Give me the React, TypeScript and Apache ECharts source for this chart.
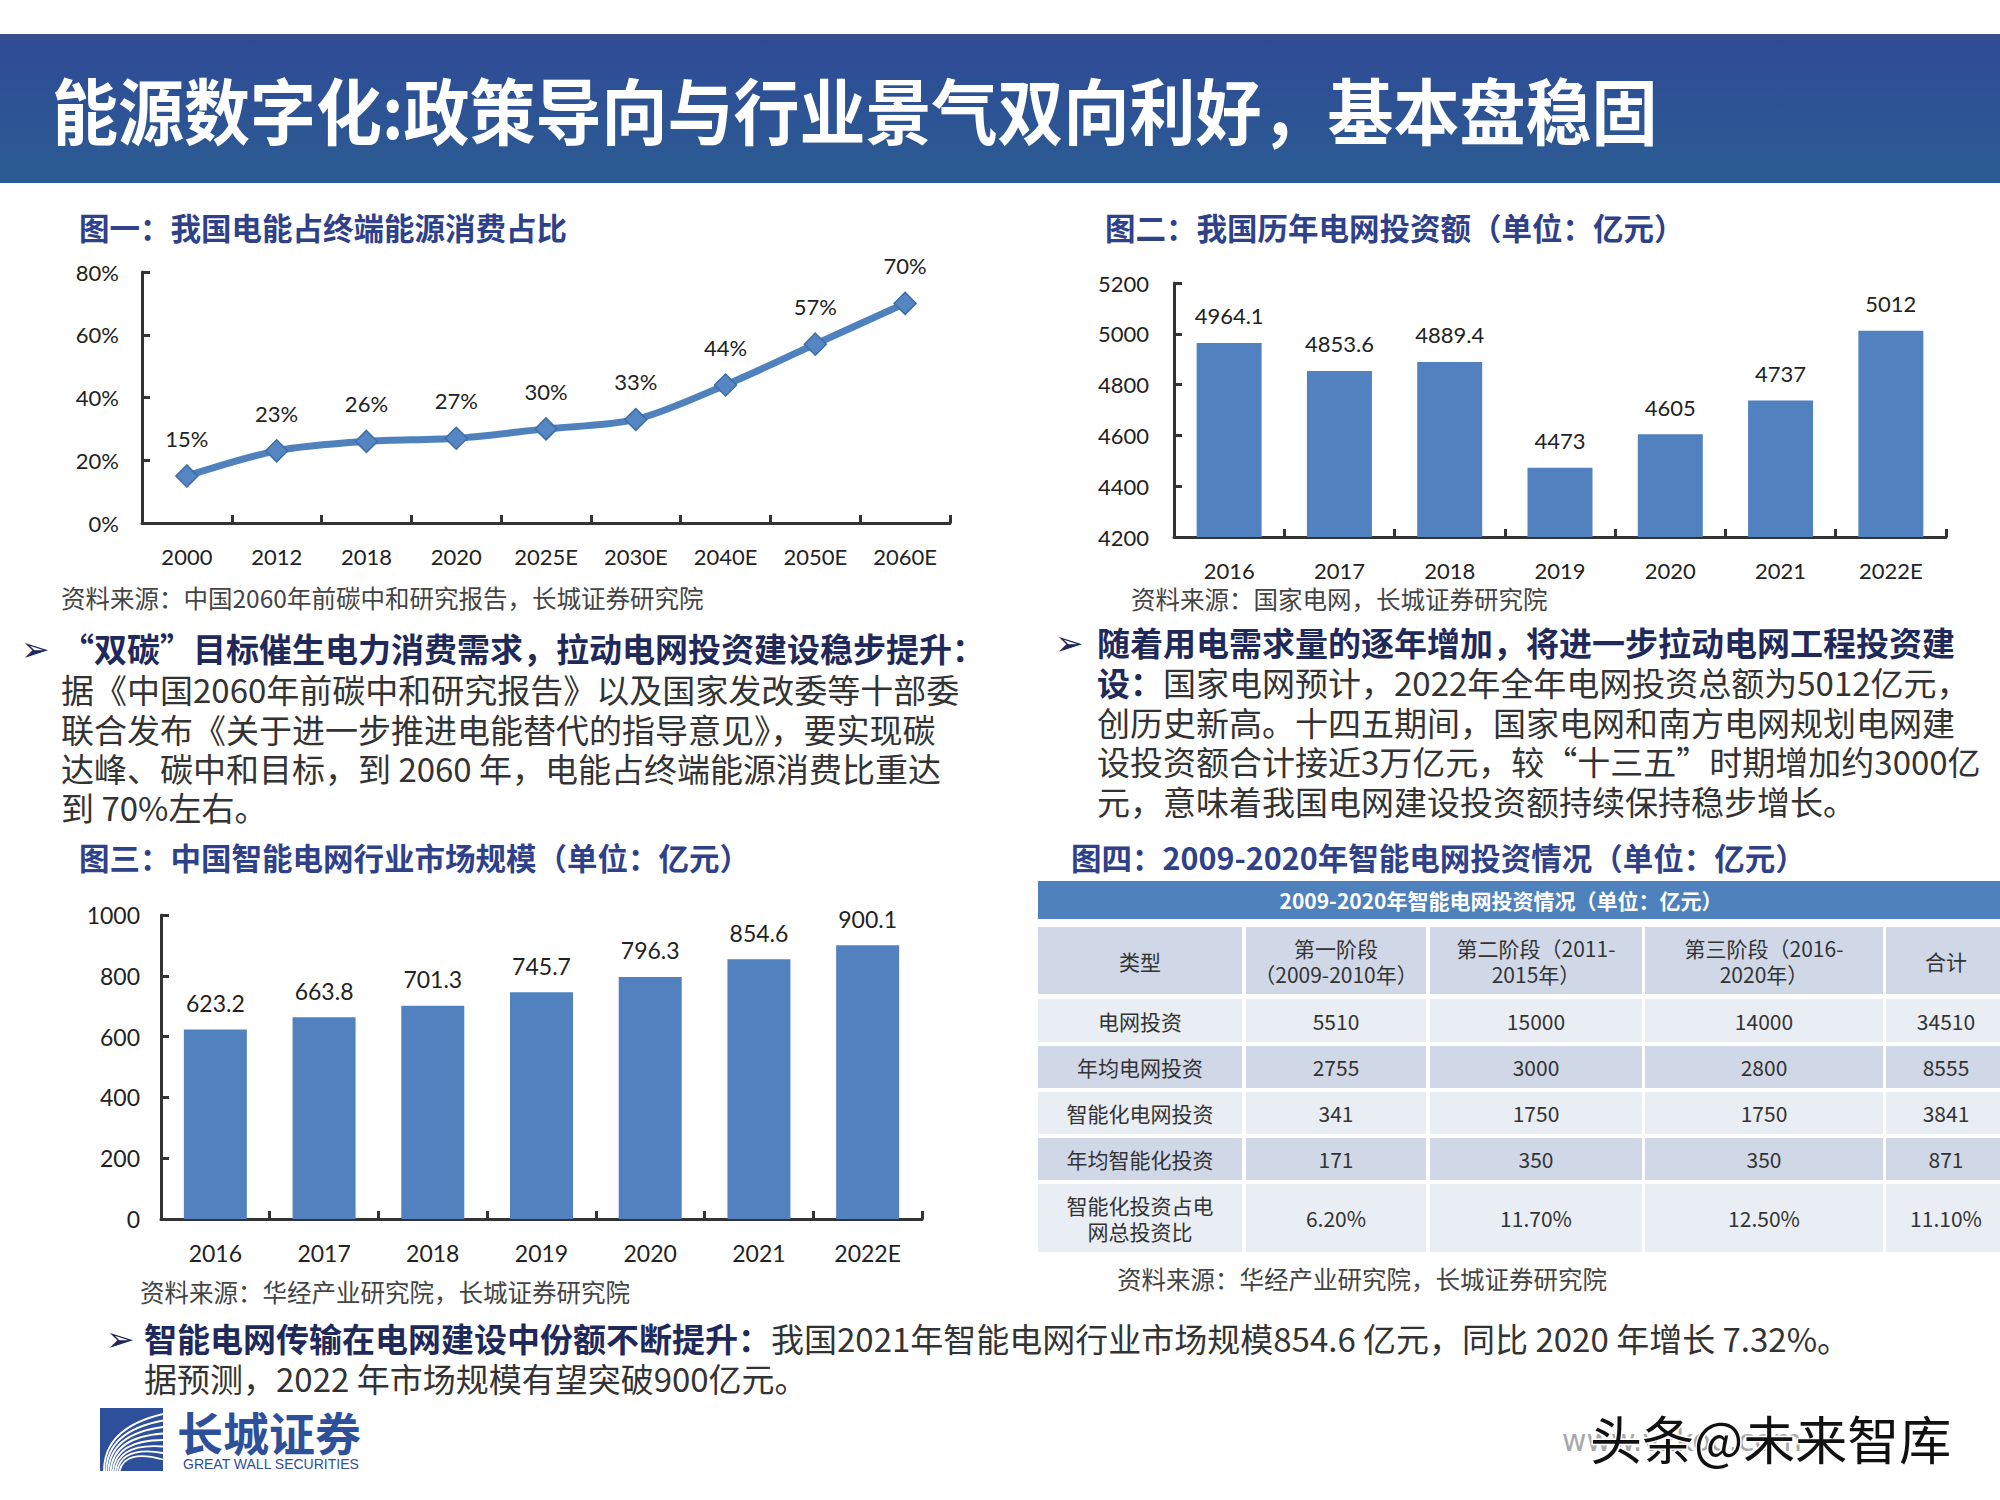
import React, { useEffect, useRef } from "react";
import * as echarts from "echarts";

// ---------- data ----------
const LINE_CATS = ["2000", "2012", "2018", "2020", "2025E", "2030E", "2040E", "2050E", "2060E"];
const LINE_VALUES = [15, 23, 26, 27, 30, 33, 44, 57, 70];

const GRID_CATS = ["2016", "2017", "2018", "2019", "2020", "2021", "2022E"];
const GRID_VALUES = [4964.1, 4853.6, 4889.4, 4473, 4605, 4737, 5012];

const SMART_CATS = ["2016", "2017", "2018", "2019", "2020", "2021", "2022E"];
const SMART_VALUES = [623.2, 663.8, 701.3, 745.7, 796.3, 854.6, 900.1];

const TABLE_TITLE = "2009-2020年智能电网投资情况（单位：亿元）";
const TABLE_HEADER = ["类型", "第一阶段\n（2009-2010年）", "第二阶段（2011-\n2015年）", "第三阶段（2016-\n2020年）", "合计"];
const TABLE_ROWS = [
  ["电网投资", "5510", "15000", "14000", "34510"],
  ["年均电网投资", "2755", "3000", "2800", "8555"],
  ["智能化电网投资", "341", "1750", "1750", "3841"],
  ["年均智能化投资", "171", "350", "350", "871"],
  ["智能化投资占电\n网总投资比", "6.20%", "11.70%", "12.50%", "11.10%"],
];

const PAGE_TITLE = "能源数字化:政策导向与行业景气双向利好，基本盘稳固";
const FIG_TITLES = [
  "图一：我国电能占终端能源消费占比",
  "图二：我国历年电网投资额（单位：亿元）",
  "图三：中国智能电网行业市场规模（单位：亿元）",
  "图四：2009-2020年智能电网投资情况（单位：亿元）",
];
const SOURCES = [
  "资料来源：中国2060年前碳中和研究报告，长城证券研究院",
  "资料来源：国家电网，长城证券研究院",
  "资料来源：华经产业研究院，长城证券研究院",
  "资料来源：华经产业研究院，长城证券研究院",
];
const LEFT_PARA = [
  "据《中国2060年前碳中和研究报告》以及国家发改委等十部委",
  "联合发布《关于进一步推进电能替代的指导意见》，要实现碳",
  "达峰、碳中和目标，到 2060 年，电能占终端能源消费比重达",
  "到 70%左右。",
];
const LEFT_HEAD = "“双碳”目标催生电力消费需求，拉动电网投资建设稳步提升：";
const RIGHT_HEAD = "随着用电需求量的逐年增加，将进一步拉动电网工程投资建";
const RIGHT_PARA = [
  "{b|设：}国家电网预计，2022年全年电网投资总额为5012亿元，",
  "创历史新高。十四五期间，国家电网和南方电网规划电网建",
  "设投资额合计接近3万亿元，较“十三五”时期增加约3000亿",
  "元，意味着我国电网建设投资额持续保持稳步增长。",
];
const BOTTOM_PARA = [
  "{b|智能电网传输在电网建设中份额不断提升：}我国2021年智能电网行业市场规模854.6 亿元，同比 2020 年增长 7.32%。",
  "据预测，2022 年市场规模有望突破900亿元。",
];

const CJK = '"Noto Sans CJK SC", "Noto Sans", sans-serif';
const NUM = 'Lato, "Noto Sans", sans-serif';
const NAVY = "#2f4189";
const HEAD_NAVY = "#1f2a5a";
const BODY = "#333333";
const BAR = "#5182bf";
const BODY_SIZE = 33;

function txt(text: string, x: number, y: number, opts: any = {}) {
  const { align = "left", scaleX, scaleY, ...style } = opts;
  const el: any = {
    type: "text",
    x,
    y,
    silent: true,
    style: {
      text,
      fontFamily: CJK,
      fontSize: BODY_SIZE,
      lineHeight: 36,
      fill: BODY,
      textAlign: align,
      align,
      textVerticalAlign: "middle",
      verticalAlign: "middle",
      ...style,
    },
  };
  if (scaleX !== undefined) el.scaleX = scaleX;
  if (scaleY !== undefined) el.scaleY = scaleY;
  return el;
}

function buildGraphics() {
  const g: any[] = [];
  // banner
  g.push({
    type: "rect",
    silent: true,
    shape: { x: 0, y: 34, width: 2000, height: 149 },
    style: {
      fill: new echarts.graphic.LinearGradient(0, 0, 0, 1, [
        { offset: 0, color: "#2f4a97" },
        { offset: 1, color: "#2b5c92" },
      ]),
    },
  });
  g.push({
    type: "rect",
    silent: true,
    shape: { x: 0, y: 34, width: 2000, height: 6 },
    style: { fill: "#38508f" },
  });
  g.push(
    txt(PAGE_TITLE, 52, 108, { fontSize: 66, lineHeight: 70, fontWeight: "bold", fill: "#ffffff", scaleY: 1.08 })
  );

  // figure titles
  const titlePos = [
    [79, 227],
    [1105, 227],
    [79, 857],
    [1071, 857],
  ];
  FIG_TITLES.forEach((t, i) =>
    g.push(txt(t, titlePos[i][0], titlePos[i][1], { fontSize: 30.5, lineHeight: 32, fontWeight: "bold", fill: NAVY }))
  );

  // sources
  const srcPos = [
    [61, 597],
    [1131, 598],
    [140, 1291],
    [1117, 1278],
  ];
  SOURCES.forEach((t, i) =>
    g.push(txt(t, srcPos[i][0], srcPos[i][1], { fontSize: 24.5, lineHeight: 26, fill: "#444444" }))
  );

  const arrowStyle = { fontSize: 34, lineHeight: 36, fill: HEAD_NAVY, fontFamily: '"DejaVu Sans", sans-serif' };

  // left paragraph
  g.push(txt("➢", 21, 649, arrowStyle));
  g.push(txt(LEFT_HEAD, 61, 648, { fontWeight: "bold", fill: HEAD_NAVY }));
  const leftY = [689, 729, 768, 807];
  LEFT_PARA.forEach((t, i) => g.push(txt(t, 61, leftY[i])));

  // right paragraph
  const rich = {
    b: { fontWeight: "bold", fill: HEAD_NAVY, color: HEAD_NAVY, fontSize: BODY_SIZE, lineHeight: 36, fontFamily: CJK },
  };
  g.push(txt("➢", 1055, 643, arrowStyle));
  g.push(txt(RIGHT_HEAD, 1097, 642, { fontWeight: "bold", fill: HEAD_NAVY }));
  const rightY = [682, 722, 761, 801];
  RIGHT_PARA.forEach((t, i) => g.push(txt(t, 1097, rightY[i], { rich })));

  // bottom paragraph
  g.push(txt("➢", 106, 1339, arrowStyle));
  g.push(txt(BOTTOM_PARA[0], 144, 1338, { rich }));
  g.push(txt(BOTTOM_PARA[1], 144, 1378));

  // table
  g.push({
    type: "rect",
    silent: true,
    shape: { x: 1038, y: 881, width: 962, height: 38 },
    style: { fill: "#4f81bd" },
  });
  g.push(
    txt(TABLE_TITLE, 1501, 900, { align: "center", fontSize: 21, lineHeight: 24, fontWeight: "bold", fill: "#ffffff" })
  );
  const colX = [1038, 1246, 1430, 1645, 1886];
  const colW = [204, 180, 212, 238, 118];
  const rowY = [927, 999, 1046, 1092, 1138, 1184];
  const rowH = [67, 43, 42, 42, 42, 68];
  const rows = [TABLE_HEADER, ...TABLE_ROWS];
  rows.forEach((row, r) => {
    const fill = r % 2 === 0 ? "#d0d8e8" : "#e9edf4";
    row.forEach((cell, c) => {
      g.push({
        type: "rect",
        silent: true,
        shape: { x: colX[c], y: rowY[r], width: colW[c], height: rowH[r] },
        style: { fill },
      });
      const cx = c === 4 ? 1946 : colX[c] + colW[c] / 2;
      const cy = rowY[r] + rowH[r] / 2;
      g.push(txt(cell, cx, cy, { align: "center", fontSize: 21, fill: "#333333", lineHeight: 26 }));
    });
  });

  // logo
  g.push({
    type: "rect",
    silent: true,
    shape: { x: 100, y: 1408, width: 63, height: 63 },
    style: { fill: "#2e4f9a" },
  });
  for (let i = 0; i < 8; i++) {
    g.push({
      type: "bezierCurve",
      silent: true,
      shape: {
        x1: 104 + i * 2.2,
        y1: 1471,
        cpx1: 104 + i * 3,
        cpy1: 1428 + i * 3,
        x2: 163,
        y2: 1414 + i * 6.5,
      },
      style: { stroke: "#ffffff", lineWidth: 1.8, fill: null },
    });
  }
  g.push(txt("长城证券", 177, 1431, { fontSize: 46, lineHeight: 46, fontWeight: "bold", fill: "#2e4f9a" }));
  g.push(
    txt("GREAT WALL SECURITIES", 183, 1464, {
      fontSize: 14,
      lineHeight: 15,
      fill: "#2e4f9a",
      fontFamily: '"Liberation Sans Narrow", "Liberation Sans", sans-serif',
    })
  );

  // watermark
  g.push(
    txt("www.vzkoo.com", 1562, 1440, {
      fontSize: 30,
      lineHeight: 32,
      fill: "#a8a8a8",
      fontFamily: '"DejaVu Sans", sans-serif',
    })
  );
  g.push(
    txt("头条@未来智库", 1590, 1437, {
      fontSize: 52,
      lineHeight: 54,
      fill: "#111111",
      stroke: "#ffffff",
      lineWidth: 3,
    })
  );
  return g;
}

const axisLineStyle = { color: "#333333", width: 3 };

function catAxis(gridIndex: number, data: string[], fontSize: number) {
  return {
    type: "category",
    gridIndex,
    data,
    boundaryGap: true,
    axisLine: { show: true, lineStyle: axisLineStyle },
    axisTick: { show: true, inside: true, length: 8, lineStyle: axisLineStyle },
    axisLabel: { fontSize, color: "#222222", margin: 22, fontFamily: NUM, interval: 0 },
    splitLine: { show: false },
  };
}

function valAxis(gridIndex: number, min: number, max: number, interval: number, fontSize: number, margin: number, fmt: any) {
  return {
    type: "value",
    gridIndex,
    min,
    max,
    interval,
    axisLine: { show: true, lineStyle: axisLineStyle },
    axisTick: { show: true, inside: true, length: 8, lineStyle: axisLineStyle },
    axisLabel: { fontSize, color: "#222222", margin, fontFamily: NUM, formatter: fmt },
    splitLine: { show: false },
  };
}

const plain = (v: number) => String(v);

export default function App() {
  const ref = useRef<HTMLDivElement>(null);
  useEffect(() => {
    document.body.style.margin = "0";
    if (!ref.current) return;
    const chart = echarts.init(ref.current, null, { renderer: "svg" });
    chart.setOption({
      animation: false,
      backgroundColor: "#ffffff",
      grid: [
        { left: 142, top: 272, width: 808, height: 251 },
        { left: 1174, top: 283, width: 772, height: 254 },
        { left: 161, top: 915, width: 761, height: 304 },
      ],
      xAxis: [catAxis(0, LINE_CATS, 22), catAxis(1, GRID_CATS, 22), catAxis(2, SMART_CATS, 23)],
      yAxis: [
        valAxis(0, 0, 80, 20, 22, 23, (v: number) => v + "%"),
        valAxis(1, 4200, 5200, 200, 22, 25, plain),
        valAxis(2, 0, 1000, 200, 23, 21, plain),
      ],
      series: [
        {
          type: "line",
          xAxisIndex: 0,
          yAxisIndex: 0,
          data: LINE_VALUES,
          smooth: 0.3,
          symbol: "diamond",
          symbolSize: 22,
          lineStyle: { width: 7, color: "#4f81bd" },
          itemStyle: { color: "#5586c2", borderColor: "#3d6ca8", borderWidth: 1.5 },
          label: {
            show: true,
            position: "top",
            distance: 15,
            formatter: "{c}%",
            fontSize: 22,
            color: "#222222",
            fontFamily: NUM,
          },
        },
        {
          type: "bar",
          xAxisIndex: 1,
          yAxisIndex: 1,
          data: GRID_VALUES,
          barWidth: 65,
          itemStyle: { color: BAR },
          label: { show: true, position: "top", distance: 16, fontSize: 22, color: "#222222", fontFamily: NUM },
        },
        {
          type: "bar",
          xAxisIndex: 2,
          yAxisIndex: 2,
          data: SMART_VALUES,
          barWidth: 63,
          itemStyle: { color: BAR },
          label: { show: true, position: "top", distance: 15, fontSize: 23, color: "#222222", fontFamily: NUM },
        },
      ],
      graphic: { elements: buildGraphics() },
    });
    return () => chart.dispose();
  }, []);
  return <div ref={ref} style={{ width: 2000, height: 1500 }} />;
}
